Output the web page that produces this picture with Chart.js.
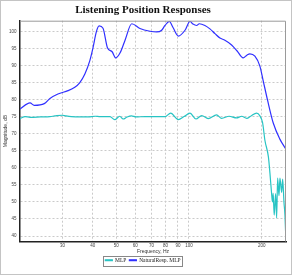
<!DOCTYPE html>
<html>
<head>
<meta charset="utf-8">
<script src="https://cdn.jsdelivr.net/npm/chart.js@4.4.1/dist/chart.umd.min.js"></script>
<style>
  html, body { margin: 0; padding: 0; background: #fff; }
</style>
</head>
<body>
<canvas id="chart" width="292" height="275"></canvas>
<script>
const mlpFreq = [20, 21, 22, 24.3, 26.6, 27.9, 29.9, 31, 32.6, 35.5, 38.3, 40.9, 42.9, 45.4, 47.1, 49.3, 51.7, 53.4, 55.5, 57.8,
  60.4, 65.8, 72.4, 79.6, 84, 90.3, 95.4, 101, 106.9, 112.9, 120.1, 130.1, 136.5, 146.6, 157.3, 165.3, 173.3, 180.6, 190.4, 196.5,
  201.6, 206.2, 213.1, 216.2, 219.5, 221.5, 223, 225.2, 228.3, 230.5, 232.7, 235.7, 237.9, 241.8, 244.1, 247.2, 249.5, 251.5];
const mlpDb = [74.4, 75.0, 74.8, 74.9, 75.0, 75.2, 75.4, 75.2, 75.0, 74.9, 74.9, 75.1, 75.0, 75.0, 75.0, 74.1, 75.1, 74.3, 74.9, 75.2,
  74.9, 75.0, 75.0, 75.0, 76.0, 74.1, 75.0, 76.0, 74.3, 75.3, 74.4, 75.5, 74.5, 75.1, 74.6, 75.1, 74.5, 75.2, 76.0, 75.2,
  73.2, 68.0, 63.2, 58.5, 52.8, 50.0, 52.5, 46.1, 52.4, 45.3, 57.0, 51.8, 57.0, 52.8, 56.7, 49.9, 46.1, 39.5];

const naturalFreq = [20, 22.0, 22.9, 25.2, 26.6, 28.7, 31.6, 33.7, 35.3, 37.1, 38.9, 40.1, 41.4, 42.5, 44.1, 46.0, 48.1, 49.8, 51.9, 54.4,
  58.0, 62.7, 69.0, 73.5, 77.1, 79.6, 82.9, 85.9, 90.4, 96.3, 101, 103.9, 107.6, 110.3, 116.4, 122.1, 128.1, 134.3, 140.8, 150.1,
  157.9, 167.6, 173.6, 178.7, 187.4, 196.5, 202.8, 211.4, 223.0, 237.7, 251];
const naturalDb = [77.2, 79.0, 78.3, 78.8, 80.3, 81.6, 82.6, 83.6, 84.9, 87.5, 91.4, 95.2, 99.9, 101.6, 100.9, 95.2, 94.0, 92.2, 93.7, 97.4,
  102.2, 100.8, 100.0, 99.8, 100.3, 101.7, 102.9, 101.1, 98.6, 100.3, 102.9, 102.1, 101.7, 102.2, 101.7, 100.7, 99.3, 98.0, 97.4, 96.0,
  94.3, 92.2, 93.0, 93.4, 92.7, 89.8, 85.5, 79.8, 73.2, 68.4, 65.6];

const xTicks = [30, 40, 50, 60, 70, 80, 90, 100, 200];
const yTicks = [40, 45, 50, 55, 60, 65, 70, 75, 80, 85, 90, 95, 100];

const zip = (xs, ys) => xs.map((x, i) => ({ x, y: ys[i] }));

// gray top/right plot edges, outer frame and the box round the legend
const framePlugin = {
  id: "frame",
  afterDraw(chart) {
    const ctx = chart.ctx;
    const a = chart.chartArea;
    ctx.save();
    ctx.strokeStyle = "#9a9a9a";
    ctx.lineWidth = 1;
    ctx.beginPath();
    ctx.moveTo(a.left, a.top + 0.5);
    ctx.lineTo(a.right - 0.5, a.top + 0.5);
    ctx.lineTo(a.right - 0.5, a.bottom);
    ctx.stroke();

    ctx.strokeStyle = "#c4c4c4";
    ctx.strokeRect(0.5, 0.5, chart.width - 1, chart.height - 1);

    const boxes = chart.legend.legendHitBoxes;
    if (boxes.length) {
      const left = Math.min(...boxes.map((b) => b.left)) - 2;
      const right = Math.max(...boxes.map((b) => b.left + b.width)) + 2;
      const top = Math.min(...boxes.map((b) => b.top)) - 2;
      const bottom = Math.max(...boxes.map((b) => b.top + b.height)) + 2;
      ctx.strokeStyle = "#888";
      ctx.strokeRect(Math.round(left) + 0.5, Math.round(top) + 0.5, Math.round(right - left), Math.round(bottom - top));
    }
    ctx.restore();
  },
};

new Chart(document.getElementById("chart"), {
  type: "line",
  data: {
    datasets: [
      {
        label: "MLP",
        data: zip(mlpFreq, mlpDb),
        borderColor: "rgb(40, 196, 196)",
        backgroundColor: "rgb(40, 196, 196)",
        borderWidth: 1.2,
        pointRadius: 0,
        cubicInterpolationMode: "monotone",
      },
      {
        label: "NaturalResp. MLP",
        data: zip(naturalFreq, naturalDb),
        borderColor: "rgb(48, 48, 255)",
        backgroundColor: "rgb(48, 48, 255)",
        borderWidth: 1.2,
        pointRadius: 0,
        cubicInterpolationMode: "monotone",
      },
    ],
  },
  options: {
    responsive: false,
    animation: false,
    layout: { padding: { left: 0, right: 6, top: 0, bottom: 2 } },
    plugins: {
      title: {
        display: true,
        text: "Listening Position Responses",
        color: "#111",
        font: { family: "'Liberation Serif', 'DejaVu Serif', serif", size: 11, weight: "bold" },
        padding: { top: 3.5, bottom: 4 },
      },
      legend: {
        position: "bottom",
        labels: {
          boxWidth: 7,
          boxHeight: 1,
          padding: 3,
          color: "#222",
          font: { family: "'Liberation Serif', 'DejaVu Serif', serif", size: 5.5 },
        },
      },
      tooltip: { enabled: false },
    },
    scales: {
      x: {
        type: "logarithmic",
        min: 20,
        max: 252,
        afterBuildTicks: (scale) => { scale.ticks = xTicks.map((v) => ({ value: v })); },
        afterFit: (scale) => { scale.height = 13; },
        grid: { color: "#cacaca", drawTicks: false, lineWidth: 1 },
        border: { color: "#222", width: 1.5, dash: [2, 2] },
        ticks: {
          padding: 1.5,
          maxRotation: 0,
          autoSkip: false,
          color: "#444",
          font: { family: "'Liberation Sans', Arial, sans-serif", size: 4.5 },
          callback: (v) => String(v),
        },
        title: {
          display: true,
          text: "Frequency, Hz",
          color: "#333",
          padding: 0,
          font: { family: "'Liberation Sans', Arial, sans-serif", size: 5 },
        },
      },
      y: {
        min: 38.4,
        max: 103.1,
        afterBuildTicks: (scale) => { scale.ticks = yTicks.map((v) => ({ value: v })); },
        afterFit: (scale) => { scale.width = 20; },
        grid: { color: "#cacaca", drawTicks: false, lineWidth: 1 },
        border: { color: "#222", width: 1.5, dash: [2, 2] },
        ticks: {
          padding: 3.5,
          color: "#444",
          font: { family: "'Liberation Sans', Arial, sans-serif", size: 4.5 },
        },
        title: {
          display: true,
          text: "Magnitude, dB",
          color: "#333",
          padding: { top: 2.5, bottom: 0 },
          font: { family: "'Liberation Sans', Arial, sans-serif", size: 5 },
        },
      },
    },
  },
  plugins: [framePlugin],
});
</script>
</body>
</html>
